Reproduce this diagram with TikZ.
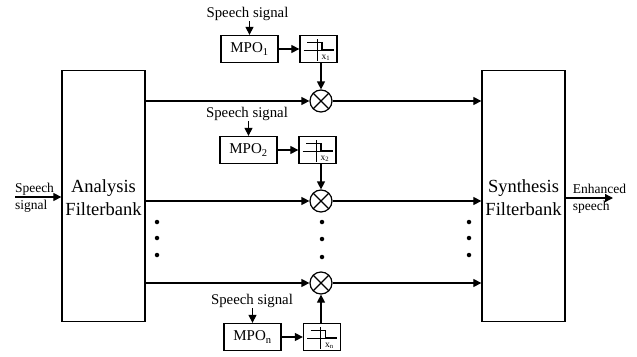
\documentclass[tikz,border=0pt]{standalone}
\usepackage{fontspec}
\setmainfont{Liberation Serif}
\usetikzlibrary{arrows.meta}
\tikzset{
  bankbox/.style={draw, rectangle, line width=1.3pt, inner sep=0pt, minimum width=83pt, minimum height=251pt, align=center, font=\fontsize{18.5}{23}\selectfont},
  mpobox/.style={draw, rectangle, line width=1.3pt, inner sep=0pt, minimum width=57pt, minimum height=27pt, font=\fontsize{15}{17}\selectfont},
  threshbox/.style={draw, rectangle, line width=1.3pt, inner sep=0pt, minimum width=37pt, minimum height=27pt},
  mixer/.style={draw, circle, line width=1.2pt, inner sep=0pt, minimum size=22pt,
    path picture={
      \draw[line width=1.2pt] (path picture bounding box.north west) -- (path picture bounding box.south east);
      \draw[line width=1.2pt] (path picture bounding box.north east) -- (path picture bounding box.south west);
    }},
  speechlabel/.style={inner sep=0pt, font=\fontsize{14.8}{17}\selectfont},
  sidelabel/.style={inner sep=0pt, align=left, font=\fontsize{13.5}{16.5}\selectfont},
  dotmark/.style={circle, fill, inner sep=0pt, minimum size=4.5pt},
}
% threshold curve inside a box
\newcommand{\threshmark}[2]{
  \begin{scope}[shift={(#1)}]
    \draw[line width=0.5pt] (-15,1) -- (12,1);
    \draw[line width=0.5pt] (-1.5,-10) -- (-1.5,12);
    \draw[line width=1.3pt] (-11.5,-6.5) -- (3.5,-6.5) -- (3.5,1) -- (15,1);
    \node[inner sep=0pt, font=\fontsize{9.5}{9.5}\selectfont] at (7.5,8.5) {x\textsubscript{#2}};
  \end{scope}
}
\begin{document}
\begin{tikzpicture}[x=1pt, y=-1pt, line width=1.2pt, >={Stealth[inset=0pt, length=8pt, width=8pt]}]
  \useasboundingbox (0,0) rectangle (637,356);
  \node[bankbox] (AF) at (103.5,196) {\rule{0pt}{17pt}Analysis\\Filterbank};
  \node[bankbox] (SF) at (523.5,196) {\rule{0pt}{16pt}Synthesis\\Filterbank};

  \node[mpobox] (MPA) at (249.5,49) {MPO\textsubscript{1}};
  \node[mpobox] (MPB) at (248.5,150) {MPO\textsubscript{2}};
  \node[mpobox] (MPC) at (252.5,337) {MPO\textsubscript{n}};
  \node[threshbox] (THA) at (318.5,49) {};
  \node[threshbox] (THB) at (317.5,150) {};
  \node[threshbox] (THC) at (322,337) {};
  \threshmark{THA}{1}
  \threshmark{THB}{2}
  \threshmark{THC}{n}

  \node[mixer] (MXA) at (321,101) {};
  \node[mixer] (MXB) at (321,201) {};
  \node[mixer] (MXC) at (321,283) {};

  \node[speechlabel] (SLA) at (247.5,14) {Speech signal};
  \node[speechlabel] (SLB) at (247,114) {Speech signal};
  \node[speechlabel] (SLC) at (252,301) {Speech signal};

  \node[sidelabel] (INL) at (34.5,198) {Speech\\signal};
  \node[sidelabel] (OUTL) at (599.5,199) {Enhanced\\speech};
  \coordinate (INS) at (15,197);
  \coordinate (OUTE) at (613,198);

  \draw[->] (SLA.south -| MPA) -- (MPA);
  \draw[->] (SLB.south -| MPB) -- (MPB);
  \draw[->] (SLC.south -| MPC) -- (MPC);
  \draw[->] (MPA) -- (THA);
  \draw[->] (MPB) -- (THB);
  \draw[->] (MPC) -- (THC);
  \draw[->] (THA.south -| MXA) -- (MXA);
  \draw[->] (THB.south -| MXB) -- (MXB);
  \draw[->] (THC.north -| MXC) -- (MXC);

  \draw[->] (AF.east |- MXA) -- (MXA);
  \draw[->] (AF.east |- MXB) -- (MXB);
  \draw[->] (AF.east |- MXC) -- (MXC);
  \draw[->] (MXA) -- (SF.west |- MXA);
  \draw[->] (MXB) -- (SF.west |- MXB);
  \draw[->] (MXC) -- (SF.west |- MXC);

  \draw[->] (INS) -- (AF.west |- INS);
  \draw[->] (SF.east |- OUTE) -- (OUTE);

  \foreach \name/\px/\py in {a/157/222, b/157/238, c/157/255, d/322/222, e/322/239, f/322/257, g/469/222, h/469/238, i/469/255}
    \node[dotmark] (dot\name) at (\px,\py) {};
\end{tikzpicture}
\end{document}
